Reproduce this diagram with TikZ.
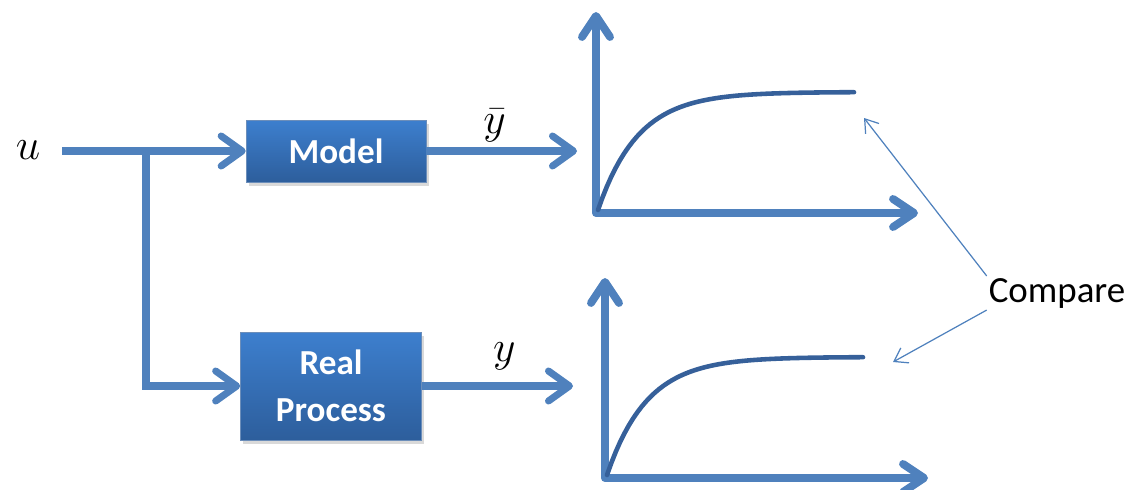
\documentclass[tikz,border=0pt]{standalone}
\usepackage{fontspec}
\setmainfont{Carlito}
\usetikzlibrary{positioning, arrows.meta, shadows}
\definecolor{pptblue}{HTML}{4F81BD}
\definecolor{pptdark}{HTML}{36609A}
\definecolor{boxtop}{HTML}{3D7FCE}
\definecolor{boxbot}{HTML}{2D5E9C}

\begin{document}
\begin{tikzpicture}[x=0.02cm, y=-0.02cm,
        blk/.style={top color=boxtop, bottom color=boxbot, draw=boxbot!70!white, line width=0.4pt, text=white, font=\fontsize{20}{27}\selectfont\bfseries, align=center, drop shadow={shadow xshift=1.5pt, shadow yshift=-2pt, opacity=0.3}},
        sig/.style={pptblue, line width=4pt, -{Straight Barb[length=0.42cm, width=0.6cm, round]}},
        ax/.style={pptblue, line width=4.5pt, line join=round, {Straight Barb[length=0.42cm, width=0.56cm, round]}-{Straight Barb[length=0.42cm, width=0.56cm, round]}},
        crv/.style={pptdark, line width=2.6pt, line cap=round},
        cmp/.style={pptblue, line width=0.7pt, -{Straight Barb[length=0.25cm, width=0.34cm]}},
        mlab/.style={text=black, font=\fontsize{29}{31}\selectfont, inner sep=1pt}]
      \useasboundingbox (0,0) rectangle (1136,490);
      % blocks
      \node[mlab] (u) at (28,150) {$u$};
      \node[blk, minimum width=3.6cm, minimum height=1.24cm] (model) at (336,151) {Model};
      \node[blk, minimum width=3.62cm, minimum height=2.16cm] (real) at (331,386) {Real\\Process};
      \node[font=\fontsize{21}{25}\selectfont, inner sep=1pt] (cmp) at (1057,293) {Compare};
      \coordinate (in) at (62,151);
      \coordinate (br) at (146,151);
      \coordinate (ybarend) at (577,151);
      \coordinate (yend) at (573,386);
      % signals
      \draw[sig] (in) -- (model.west);
      \draw[sig] (br) |- (real.west);
      \draw[sig] (model.east) -- (ybarend) node[mlab, midway, above=2pt, xshift=-4pt] (ybar) {$\bar{y}$};
      \draw[sig] (real.east) -- (yend) node[mlab, midway, above=6pt, xshift=4pt] (ylab) {$y$};
      % graphs
      \coordinate (t1) at (596,12);
      \coordinate (o1) at (596,213);
      \coordinate (x1) at (918,213);
      \coordinate (t2) at (605,278);
      \coordinate (o2) at (605,478);
      \coordinate (x2) at (928,478);
      \draw[ax] (t1) -- (o1) -- (x1);
      \draw[ax] (t2) -- (o2) -- (x2);
      \draw[crv] plot[domain=0:256, samples=60] ({598+\x}, {210-118*(1-exp(-\x/40))});
      \draw[crv] plot[domain=0:256, samples=60] ({607+\x}, {475-118*(1-exp(-\x/40))});
      % compare
      \coordinate (pk1) at (864,118);
      \coordinate (pk2) at (893,362);
      \draw[cmp] (cmp.north west) -- (pk1);
      \draw[cmp] (cmp.south west) -- (pk2);
\end{tikzpicture}
\end{document}
